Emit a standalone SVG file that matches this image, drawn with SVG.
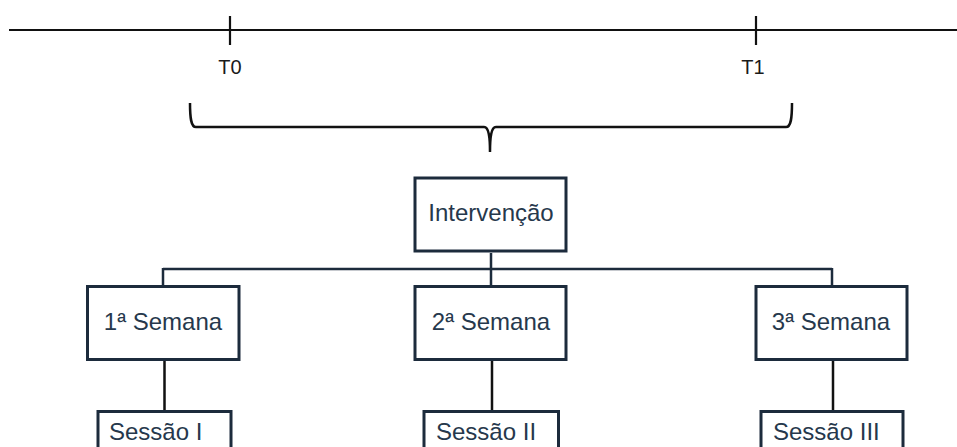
<svg xmlns="http://www.w3.org/2000/svg" width="957" height="447" viewBox="0 0 957 447">
<style>
  .box{fill:#ffffff;stroke:#1c2b3c;stroke-width:3}
  .lbl{font-family:"Liberation Sans",Arial,sans-serif;font-size:24px;fill:#26384c}
  .tl{fill:none;stroke:#111111;stroke-width:2.2}
  .tk{font-family:"Liberation Sans",Arial,sans-serif;font-size:20px;fill:#1a1a1a;text-anchor:middle}
  .conn{fill:none;stroke:#1c2b3c;stroke-width:2.5}
  .conn2{fill:none;stroke:#111111;stroke-width:2.5}
</style>
<rect width="957" height="447" fill="#ffffff"/>
<g id="timeline">
  <path class="tl" d="M9,30 H957 M230,16 V45 M756,16 V45"/>
  <text class="tk" x="230" y="74">T0</text>
  <text class="tk" x="753" y="74">T1</text>
  <path fill="none" stroke="#111111" stroke-width="2.5" d="M190,103 C190,118 191,127 196,127 L484,127 C489,127 490,138 490,152 C490,138 491,127 496,127 L786,127 C791,127 792,118 792,103"/>
</g>
<g id="connectors">
  <path class="conn" d="M163,269 H832 M163,268 V286 M491,253 V286 M832,268 V286"/>
  <path class="conn2" d="M164.5,361 V411 M492,361 V411 M833,361 V411"/>
</g>
<g id="intervencao">
  <rect class="box" x="415" y="178" width="151" height="73"/>
  <text class="lbl" x="491" y="221" text-anchor="middle">Intervenção</text>
</g>
<g id="semana1">
  <rect class="box" x="87.5" y="286.5" width="151.5" height="73"/>
  <text class="lbl" x="163" y="330" text-anchor="middle">1ª Semana</text>
</g>
<g id="semana2">
  <rect class="box" x="415" y="286.5" width="151" height="73"/>
  <text class="lbl" x="491" y="330" text-anchor="middle">2ª Semana</text>
</g>
<g id="semana3">
  <rect class="box" x="756" y="286.5" width="151" height="73"/>
  <text class="lbl" x="831" y="330" text-anchor="middle">3ª Semana</text>
</g>
<g id="sessao1">
  <rect class="box" x="98" y="411.5" width="133" height="60"/>
  <text class="lbl" x="109" y="439.5">Sessão I</text>
</g>
<g id="sessao2">
  <rect class="box" x="424" y="411.5" width="134.5" height="60"/>
  <text class="lbl" x="436" y="439.5">Sessão II</text>
</g>
<g id="sessao3">
  <rect class="box" x="761" y="411.5" width="142" height="60"/>
  <text class="lbl" x="773" y="439.5">Sessão III</text>
</g>
</svg>
